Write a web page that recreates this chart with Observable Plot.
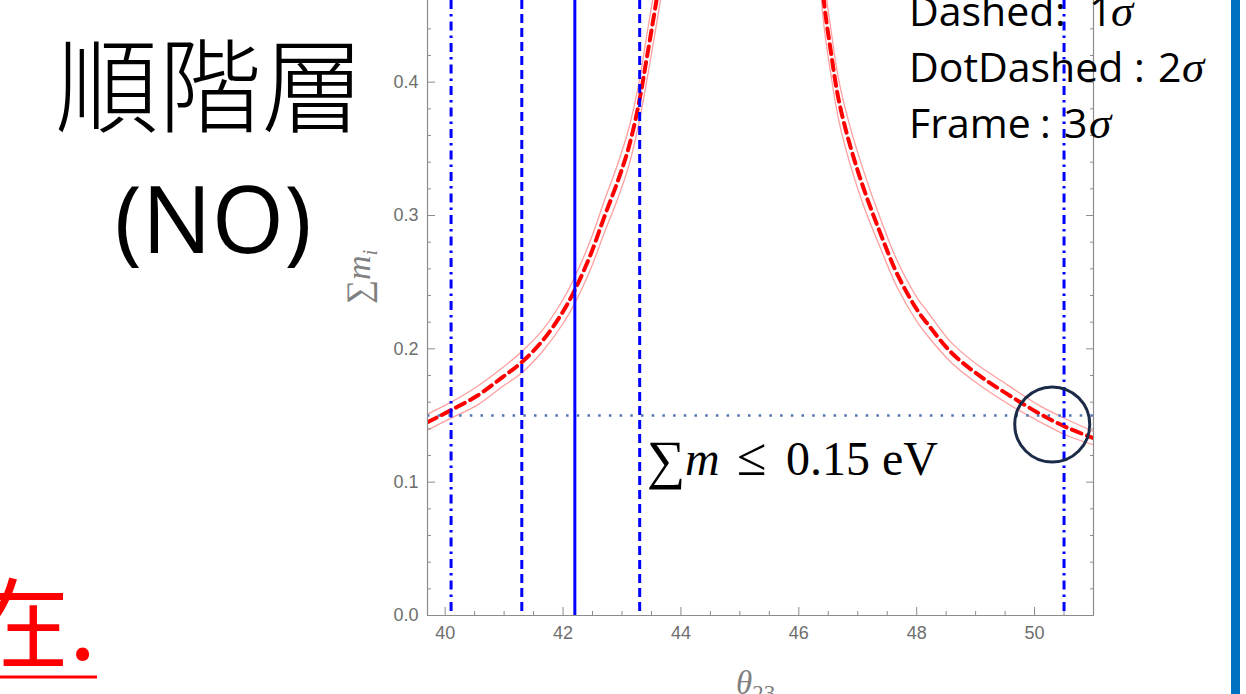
<!DOCTYPE html>
<html><head><meta charset="utf-8">
<script src="https://cdn.jsdelivr.net/npm/d3@7"></script>
<script src="https://cdn.jsdelivr.net/npm/@observablehq/plot@0.6"></script>
<style>
html,body{margin:0;padding:0;background:#fff;overflow:hidden;}
#wrap{position:relative;width:1246px;height:694px;}
#wrap svg{position:absolute;left:0;top:0;}
</style></head><body><div id="wrap"></div>
<script>
// ---- data ----
const thetaLeft  = [39.70, 40.10, 40.55, 40.95, 41.30, 41.65, 42.00, 42.22, 42.47, 42.70, 42.93, 43.12, 43.29, 43.42, 43.58, 43.72];
const sumLeft    = [0.145, 0.154, 0.165, 0.178, 0.190, 0.206, 0.228, 0.246, 0.271, 0.299, 0.326, 0.352, 0.385, 0.418, 0.460, 0.500];
const sumLeftHi  = [0.151, 0.160, 0.172, 0.185, 0.198, 0.214, 0.237, 0.256, 0.282, 0.311, 0.339, 0.366, 0.400, 0.435, 0.478, 0.520];
const sumLeftLo  = [0.139, 0.148, 0.158, 0.171, 0.182, 0.198, 0.219, 0.236, 0.260, 0.287, 0.313, 0.338, 0.370, 0.401, 0.442, 0.480];
const thetaRight = [46.35, 46.43, 46.54, 46.68, 46.88, 47.11, 47.39, 47.67, 48.01, 48.18, 48.58, 49.03, 49.54, 50.10, 50.55, 51.00];
const sumRight   = [0.500, 0.459, 0.424, 0.386, 0.351, 0.319, 0.286, 0.256, 0.229, 0.219, 0.1975, 0.181, 0.166, 0.151, 0.141, 0.133];
const sumRightHi = [0.520, 0.477, 0.441, 0.401, 0.365, 0.332, 0.297, 0.266, 0.238, 0.228, 0.205, 0.188, 0.173, 0.157, 0.147, 0.138];
const sumRightLo = [0.480, 0.441, 0.407, 0.371, 0.337, 0.306, 0.275, 0.246, 0.220, 0.210, 0.190, 0.174, 0.159, 0.145, 0.135, 0.128];

const bestFit   = [42.2];        // solid
const oneSigma  = [41.3, 43.3];  // dashed
const twoSigma  = [40.1, 50.5];  // dot-dashed
const massBound = [0.15];        // dotted horizontal
const circled   = [{theta: 50.30, sum: 0.1433}];

const xDomain = [39.7, 51.0];
const yDomain = [0, 0.46125];
const xMajor = [40, 42, 44, 46, 48, 50];
const xMinor = [40.5, 41, 41.5, 42.5, 43, 43.5, 44.5, 45, 45.5, 46.5, 47, 47.5, 48.5, 49, 49.5, 50.5];
const yMajor = [0, 0.1, 0.2, 0.3, 0.4];
const yMinor = [0.02, 0.04, 0.06, 0.08, 0.12, 0.14, 0.16, 0.18, 0.22, 0.24, 0.26, 0.28, 0.32, 0.34, 0.36, 0.38, 0.42, 0.44];

const rows = (t, c, h, l) => t.map((x, i) => ({theta: x, sum: c[i], hi: h[i], lo: l[i]}));
const left = rows(thetaLeft, sumLeft, sumLeftHi, sumLeftLo);
const right = rows(thetaRight, sumRight, sumRightHi, sumRightLo);

const AX = "#8c8c8c", TX = "#6e6e6e";
const band = {x: "theta", stroke: "#ff9f9f", strokeWidth: 1.3, curve: "catmull-rom", clip: true};
const center = {x: "theta", y: "sum", stroke: "#ff0000", strokeWidth: 4, strokeDasharray: "10,6", curve: "catmull-rom", clip: true};

const chart = Plot.plot({
  width: 1246, height: 694,
  marginLeft: 427, marginRight: 153, marginTop: 0, marginBottom: 79,
  x: {domain: xDomain},
  y: {domain: yDomain},
  style: {fontFamily: "'Liberation Sans', Arial, sans-serif", background: "transparent", overflow: "visible"},
  marks: [
    Plot.line(left, {...band, y: "hi"}),
    Plot.line(left, {...band, y: "lo"}),
    Plot.line(right, {...band, y: "hi"}),
    Plot.line(right, {...band, y: "lo"}),
    Plot.line(left, center),
    Plot.line(right, center),
    Plot.ruleY(massBound, {stroke: "#4f74b3", strokeWidth: 2.5, strokeDasharray: "2.5,8.2"}),
    Plot.ruleX(twoSigma, {stroke: "#0000ff", strokeWidth: 3, strokeDasharray: "9,5,2.5,5"}),
    Plot.ruleX(oneSigma, {stroke: "#0000ff", strokeWidth: 3, strokeDasharray: "9,5"}),
    Plot.ruleX(bestFit, {stroke: "#0000ff", strokeWidth: 3}),
    Plot.dot(circled, {x: "theta", y: "sum", r: 37.5, stroke: "#1c2b48", strokeWidth: 3, fill: "none"}),
    // frame (left, right, bottom)
    Plot.ruleX(xDomain, {stroke: AX, strokeWidth: 1.2}),
    Plot.ruleY([0], {stroke: AX, strokeWidth: 1.2}),
    // inward ticks
    Plot.axisX(xMajor, {tickSize: -8, fill: "none", stroke: AX, label: null}),
    Plot.axisX(xMinor, {tickSize: -4, fill: "none", stroke: AX, label: null}),
    Plot.axisY(yMajor, {anchor: "left", tickSize: -8, fill: "none", stroke: AX, label: null}),
    Plot.axisY(yMinor, {anchor: "left", tickSize: -4, fill: "none", stroke: AX, label: null}),
    Plot.axisY(yMajor, {anchor: "right", tickSize: -8, fill: "none", stroke: AX, label: null}),
    Plot.axisY(yMinor, {anchor: "right", tickSize: -4, fill: "none", stroke: AX, label: null}),
    // tick labels
    Plot.axisX(xMajor, {tickSize: 0, tickPadding: 11, fill: TX, fontSize: 18, label: null}),
    Plot.axisY(yMajor, {anchor: "left", tickSize: 0, tickPadding: 9, fill: TX, fontSize: 18, tickFormat: d3.format(".1f"), label: null})
  ]
});
document.getElementById("wrap").appendChild(chart);

// slide text and annotations
const S = "font-family=\"'Liberation Serif'\" font-style=\"italic\" font-size=\"45\"";
const overlay = `
<svg width="1246" height="694" xmlns="http://www.w3.org/2000/svg" style="pointer-events:none">
  <rect x="1231" y="0" width="9" height="694" fill="#0070C0"/>
  <text x="210" y="125" font-family="'Noto Sans CJK JP'" font-weight="300" font-size="103" text-anchor="middle" fill="#000">順階層</text>
  <text x="213" y="253" font-family="'Open Sans'" font-size="93" text-anchor="middle" fill="#000">(NO)</text>
  <text x="-29" y="660" font-family="'Noto Sans CJK JP'" font-size="98" fill="#ff0000">在.</text>
  <rect x="0" y="675.5" width="97" height="3" fill="#ff0000"/>
  <g font-family="'Open Sans'" font-size="41" fill="#000">
    <text y="26"><tspan x="909">Dashed</tspan><tspan x="1055">:</tspan><tspan x="1089">1</tspan><tspan x="1111" ${S}>σ</tspan></text>
    <text y="82"><tspan x="909">DotDashed</tspan><tspan x="1134">:</tspan><tspan x="1158">2</tspan><tspan x="1182" ${S}>σ</tspan></text>
    <text y="138"><tspan x="909">Frame</tspan><tspan x="1040">:</tspan><tspan x="1064">3</tspan><tspan x="1089" ${S}>σ</tspan></text>
  </g>
  <text y="475" font-family="'Liberation Serif'" font-size="48" fill="#000"><tspan x="647" font-size="54" dy="3">∑</tspan><tspan x="685" dy="-3" font-style="italic">m</tspan><tspan x="737" font-size="54">≤</tspan><tspan x="786">0.15 eV</tspan></text>
  <text transform="translate(370,277) rotate(-90)" text-anchor="middle" font-family="'Liberation Serif'" font-size="34" fill="#808080">∑<tspan font-style="italic">m</tspan><tspan font-style="italic" font-size="21" dy="7">i</tspan></text>
  <text x="736" y="694" font-family="'Liberation Serif'" font-size="33" fill="#808080"><tspan font-style="italic">θ</tspan><tspan font-size="23" dy="7">23</tspan></text>
</svg>`;
document.getElementById("wrap").insertAdjacentHTML("beforeend", overlay);
</script>
</body></html>
